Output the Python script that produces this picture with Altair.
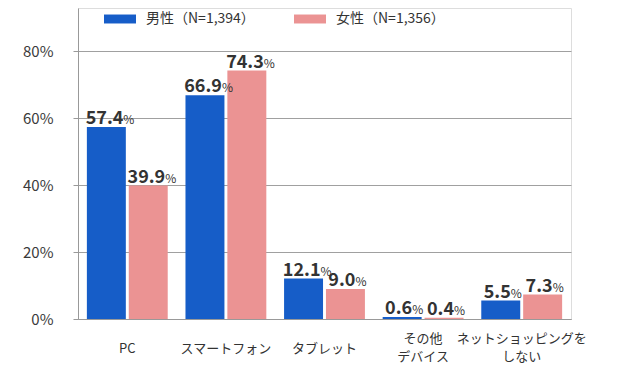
import altair as alt
import pandas as pd

categories = ["PC", "スマートフォン", "タブレット", "その他\nデバイス", "ネットショッピングを\nしない"]
series = ["男性（N=1,394）", "女性（N=1,356）"]
male = [57.4, 66.9, 12.1, 0.6, 5.5]
female = [39.9, 74.3, 9.0, 0.4, 7.3]
y_ticks = [0, 20, 40, 60, 80]
colors = ["#165DC8", "#EB9393"]

rows = []
for i, c in enumerate(categories):
    rows.append({"cat": c, "sex": series[0], "v": male[i]})
    rows.append({"cat": c, "sex": series[1], "v": female[i]})
df = pd.DataFrame(rows)
df["label"] = df["v"].map(lambda v: f"{v:.1f}")

FONT = "Noto Sans CJK JP"

base = alt.Chart(df).encode(
    x=alt.X(
        "cat:N",
        sort=categories,
        scale=alt.Scale(paddingInner=0.18, paddingOuter=0.09),
        axis=alt.Axis(
            title=None, ticks=False, labelAngle=0,
            labelPadding={"condition": {"test": "indexof(datum.label, '\\n') >= 0", "value": 19}, "value": 29},
            labelBaseline="middle", labelFontSize=13, labelColor="#333333",
            labelLineHeight=18, labelExpr="split(datum.label, '\\n')",
            domainColor="#999999", grid=False, labelFont=FONT,
        ),
    ),
    xOffset=alt.XOffset("sex:N", sort=series, scale=alt.Scale(paddingInner=0.07, paddingOuter=0)),
    y=alt.Y(
        "v:Q",
        scale=alt.Scale(domain=[0, 93], nice=False),
        axis=alt.Axis(
            title=None, values=y_ticks, labelExpr="datum.value + '%'",
            tickSize=5, labelPadding=20, labelFontSize=15, labelColor="#3a3a3a",
            grid=True, gridColor="#a0a0a0", domainColor="#999999", tickColor="#999999",
            labelFont=FONT,
        ),
    ),
)

bars = base.mark_bar().encode(
    color=alt.Color(
        "sex:N",
        sort=series,
        scale=alt.Scale(domain=series, range=colors),
        legend=alt.Legend(
            title=None, orient="none", legendX=26, legendY=-5, direction="horizontal",
            symbolType="M-1,-0.28H1V0.28H-1Z", symbolSize=1024, symbolStrokeWidth=0,
            symbolOpacity=1, labelFontSize=14, labelOffset=10, columnPadding=39,
            padding=0, labelColor="#333333", labelFont=FONT,
        ),
    )
)

num4 = base.transform_filter("length(datum.label) == 4").mark_text(
    align="right", baseline="alphabetic", dx=17, dy=-3, fontSize=18,
    fontWeight="bold", color="#333333", font=FONT,
).encode(text="label:N")
pct4 = base.transform_filter("length(datum.label) == 4").mark_text(
    align="left", baseline="alphabetic", dx=17, dy=-3, fontSize=12,
    color="#333333", font=FONT,
).encode(text=alt.value("%"))
num3 = base.transform_filter("length(datum.label) == 3").mark_text(
    align="right", baseline="alphabetic", dx=10, dy=-3, fontSize=18,
    fontWeight="bold", color="#333333", font=FONT,
).encode(text="label:N")
pct3 = base.transform_filter("length(datum.label) == 3").mark_text(
    align="left", baseline="alphabetic", dx=10, dy=-3, fontSize=12,
    color="#333333", font=FONT,
).encode(text=alt.value("%"))

chart = alt.layer(bars, num4, pct4, num3, pct3).properties(
    width=493, height=311,
    autosize=alt.AutoSizeParams(type="none"),
    padding={"left": 70, "top": 0, "right": 51, "bottom": 52},
).configure_view(stroke=None).configure(font=FONT)

chart.save("out.html", embed_options={"renderer": "svg", "actions": False})
